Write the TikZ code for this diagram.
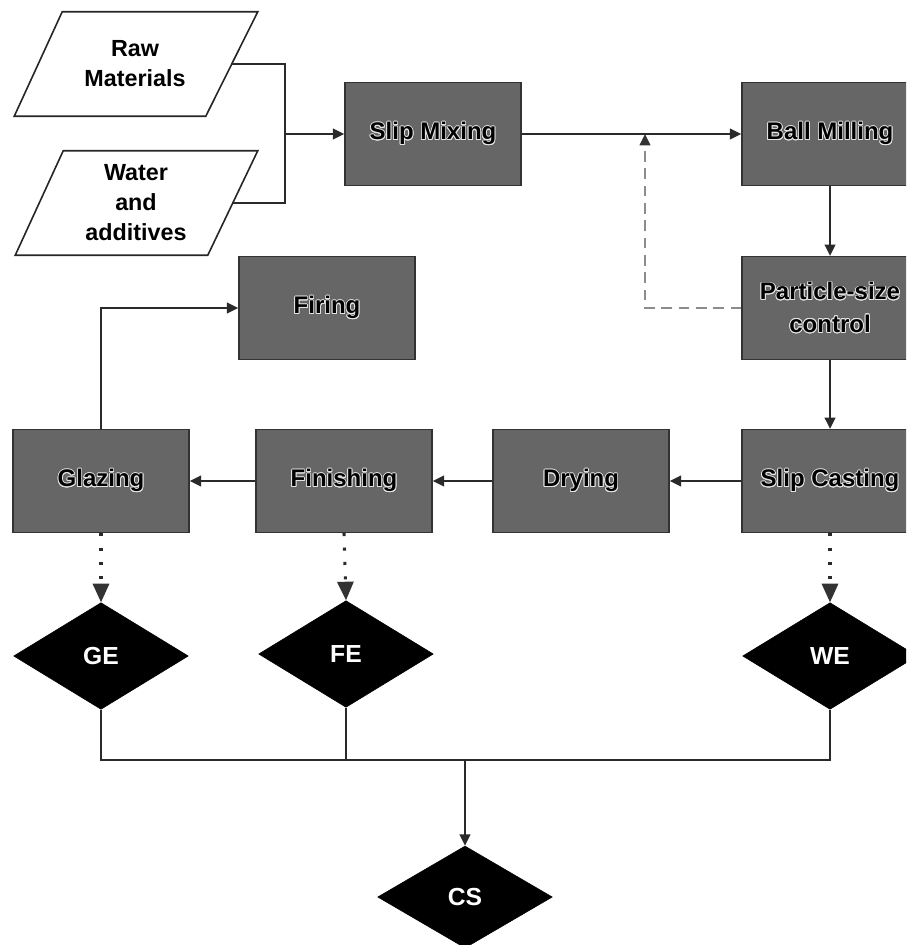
\documentclass[tikz,border=0pt]{standalone}
\usepackage{fontspec}
\setmainfont{Liberation Sans}
\usepackage{contour}
\contourlength{0.6pt}
\newcommand{\glow}[1]{\contour{white!80!gray}{#1}}
\usetikzlibrary{shapes.geometric,arrows.meta,calc}
\definecolor{boxgray}{HTML}{666666}
\definecolor{linegray}{HTML}{2A2A2A}
\begin{document}
\begin{tikzpicture}[x=0.75pt,y=-0.75pt,
  box/.style={draw=black!80,line width=1.2pt,fill=boxgray,minimum width=132pt,minimum height=77pt,inner sep=0pt,align=center,font=\bfseries\fontsize{18}{24.5}\selectfont},
  dia/.style={diamond,fill=black,draw=black,minimum width=131pt,minimum height=80pt,inner sep=0pt,text=white,font=\bfseries\fontsize{18.5}{20}\selectfont},
  para/.style={draw=black!85,line width=1.2pt,fill=white},
  paratext/.style={minimum width=144.75pt,minimum height=78pt,inner sep=0pt,align=center,font=\bfseries\fontsize{17.5}{22.5}\selectfont},
  line/.style={draw=linegray,line width=1.5pt},
  arr/.style={line,-{Triangle[length=8.5pt,width=8pt]}},
  dasharr/.style={draw=black!45,line width=1.6pt,dash pattern=on 8pt off 5pt,-{Triangle[length=8.5pt,width=8pt,fill=black!80,color=black!80]}},
  dotarr/.style={draw=linegray,line width=2.3pt,dash pattern=on 2.3pt off 8.5pt,-{Triangle[length=14pt,width=12pt,fill=black!80,color=black!80]}}
]
\useasboundingbox (0,0) rectangle (906,945);
\clip (0,0) rectangle (906,945);

% inputs
\node[paratext] (raw) at (135,64) {};
\draw[para] ($(raw.north west)+(24,0)$) -- ($(raw.north east)+(26,0)$) -- ($(raw.south east)+(-26,0)$) -- ($(raw.south west)+(-24,0)$) -- cycle;
\node[paratext] at (raw) {Raw\\Materials};
\node[paratext] (water) at (136,203) {};
\draw[para] ($(water.north west)+(24,0)$) -- ($(water.north east)+(25,0)$) -- ($(water.south east)+(-25,0)$) -- ($(water.south west)+(-24,0)$) -- cycle;
\node[paratext] at (water) {Water\\and\\additives};

% process boxes
\node[box] (mix) at (433,134) {\glow{Slip Mixing}};
\node[box] (ball) at (830,134) {\glow{Ball Milling}};
\node[box] (psc) at (830,308) {\glow{Particle-size}\\\glow{control}};
\node[box] (firing) at (327,308) {\glow{Firing}};
\node[box] (cast) at (830,481) {\glow{Slip Casting}};
\node[box] (dry) at (581,481) {\glow{Drying}};
\node[box] (fin) at (344,481) {\glow{Finishing}};
\node[box] (glaz) at (101,481) {\glow{Glazing}};

% evaluation diamonds
\node[dia] (ge) at (101,656) {GE};
\node[dia] (fe) at (346,654) {FE};
\node[dia] (we) at (830,656) {WE};
\node[dia,minimum height=76.5pt] (cs) at (465,897) {CS};

% connectors
\coordinate (jn) at (285,134);
\draw[line] (raw.east) -| (jn) |- (water.east);
\draw[arr] (jn) -- (mix.west);
\draw[arr] (mix) -- (ball);
\coordinate (fb) at (645,134);
\draw[dasharr] (psc.west) -| (fb);
\draw[arr] (ball) -- (psc);
\draw[arr] (psc) -- (cast);
\draw[arr] (cast) -- (dry);
\draw[arr] (dry) -- (fin);
\draw[arr] (fin) -- (glaz);
\draw[arr] (glaz.north) |- (firing.west);
\draw[dotarr] (glaz) -- (ge);
\draw[dotarr] (fin.south) -- (fe.north);
\draw[dotarr] (cast) -- (we);
\coordinate (busL) at (101,760);
\coordinate (busR) at (830,760);
\coordinate (busM) at (465,760);
\draw[line] (ge.south) -- (busL) -- (busR) -- (we.south);
\draw[line] (fe.south) -- (fe.south |- busL);
\draw[arr] (busM) -- (cs.north);
\end{tikzpicture}
\end{document}
